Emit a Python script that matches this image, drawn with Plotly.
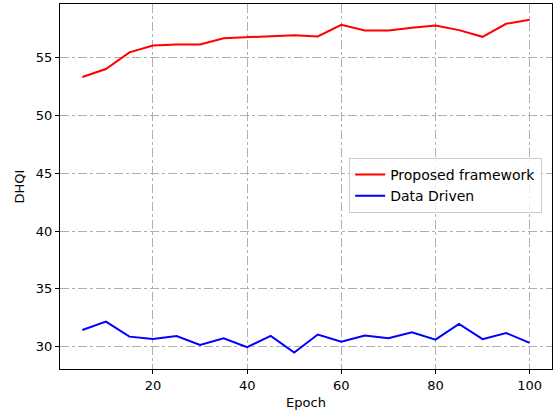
import plotly.graph_objects as go

epochs = [5, 10, 15, 20, 25, 30, 35, 40, 45, 50, 55, 60, 65, 70, 75, 80, 85, 90, 95, 100]
proposed = [53.33, 54.02, 55.46, 56.06, 56.15, 56.14, 56.69, 56.78, 56.87, 56.95, 56.84, 57.85,
            57.36, 57.36, 57.59, 57.79, 57.39, 56.81, 57.94, 58.28]
data_driven = [31.44, 32.16, 30.86, 30.66, 30.92, 30.15, 30.72, 29.95, 30.92, 29.48, 31.04, 30.43,
               30.95, 30.72, 31.24, 30.60, 31.96, 30.64, 31.18, 30.32]
x_ticks = [20, 40, 60, 80, 100]
y_ticks = [30, 35, 40, 45, 50, 55]

font = "DejaVu Sans, Liberation Sans, sans-serif"

fig = go.Figure()
fig.add_trace(go.Scatter(x=epochs, y=proposed, mode="lines", name="Proposed framework",
                         line=dict(color="#ff0000", width=2)))
fig.add_trace(go.Scatter(x=epochs, y=data_driven, mode="lines", name="Data Driven",
                         line=dict(color="#0000ff", width=2)))

axis_common = dict(
    showline=True, linecolor="#000000", linewidth=1, mirror=True,
    ticks="outside", ticklen=4, tickcolor="#000000", tickwidth=1,
    showgrid=True, gridcolor="#b0b0b0", gridwidth=1, griddash="dashdot",
    zeroline=False, tickfont=dict(family=font, size=13, color="#000000"),
)

fig.update_xaxes(range=[0.25, 104.75], tickvals=x_ticks,
                 title=dict(text="Epoch", font=dict(family=font, size=13, color="#000000"), standoff=6),
                 **axis_common)
fig.update_yaxes(range=[28.06, 59.65], tickvals=y_ticks,
                 title=dict(text="DHQI", font=dict(family=font, size=13, color="#000000"), standoff=8),
                 **axis_common)

fig.update_layout(
    width=557, height=415,
    margin=dict(l=60, r=5, t=4, b=46),
    paper_bgcolor="#ffffff", plot_bgcolor="#ffffff",
    font=dict(family=font, size=13, color="#000000"),
    showlegend=True,
    legend=dict(x=0.98, xanchor="right", y=0.503, yanchor="middle",
                bgcolor="rgba(255,255,255,0.8)", bordercolor="#cccccc", borderwidth=1,
                font=dict(family=font, size=14, color="#000000"),
                tracegroupgap=0, itemwidth=30),
)

fig.write_html("out.html", config={"displayModeBar": False},
               post_script="document.body.style.margin='0';document.body.style.padding='0';")
